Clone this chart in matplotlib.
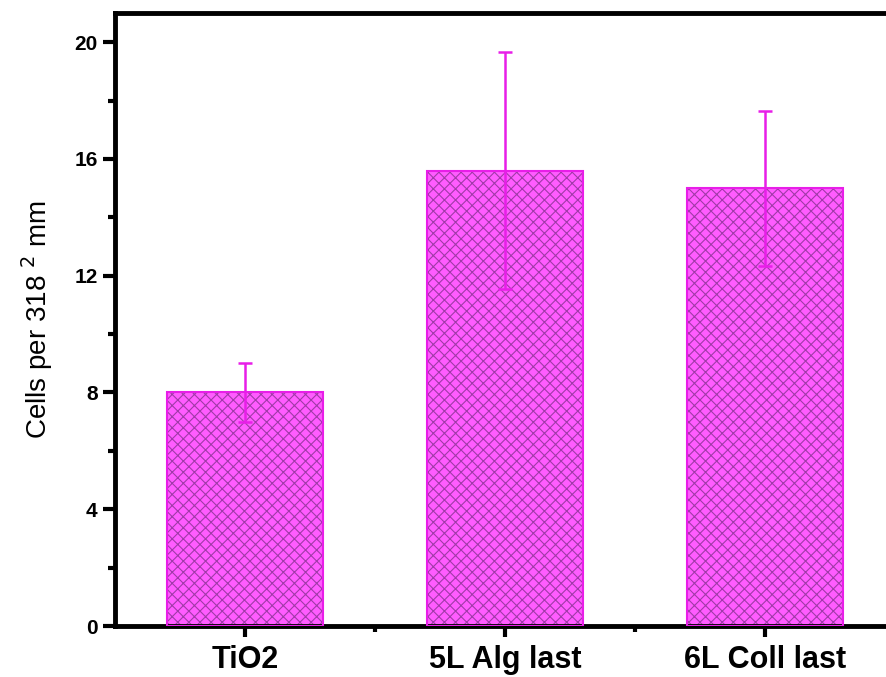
import matplotlib.pyplot as plt
import numpy as np
from matplotlib.ticker import MultipleLocator, FixedLocator

categories = ["TiO2", "5L Alg last", "6L Coll last"]
cells = [8.0, 15.6, 15.0]
errors = [1.0, 4.05, 2.65]

plt.rcParams["font.family"] = ["Liberation Sans", "DejaVu Sans"]
plt.rcParams["hatch.linewidth"] = 0.8

fig = plt.figure(figsize=(8.86, 6.77), dpi=100)
ax = fig.add_axes([0.1298, 0.0753, 0.880, 0.9055])

x = np.arange(1, len(categories) + 1)

# hatched fill, then magenta outline on top
ax.bar(x, cells, width=0.6, color="#FF5CFF", edgecolor="#A03AA8",
       hatch="xxx", linewidth=0, zorder=2)
ax.bar(x, cells, width=0.6, fill=False, edgecolor="#E81EE8",
       linewidth=1.5, zorder=3)
ax.errorbar(x, cells, yerr=errors, fmt="none", ecolor="#E81EE8",
            elinewidth=1.8, capsize=5, capthick=1.8, zorder=4)

ax.set_xlim(0.5, 3.5)
ax.set_ylim(0, 21)

ax.yaxis.set_major_locator(MultipleLocator(4))
ax.yaxis.set_minor_locator(MultipleLocator(2))
ax.set_xticks(x)
ax.set_xticklabels(categories, fontsize=22, fontweight="bold")
ax.xaxis.set_minor_locator(FixedLocator([1.5, 2.5]))

for lab in ax.get_yticklabels():
    lab.set_fontweight("bold")
ax.tick_params(axis="y", which="major", labelsize=15, length=9, width=3, direction="out")
ax.tick_params(axis="y", which="minor", length=5, width=3, direction="out")
ax.tick_params(axis="x", which="major", length=8, width=3, direction="out", pad=6)
ax.tick_params(axis="x", which="minor", length=4, width=3, direction="out")

for side in ["left", "bottom", "top"]:
    ax.spines[side].set_linewidth(3.5)
ax.spines["right"].set_visible(False)

ax.set_ylabel("Cells per 318 $^{2}$ mm", fontsize=20, labelpad=14)

fig.savefig("out.png", dpi=100)
